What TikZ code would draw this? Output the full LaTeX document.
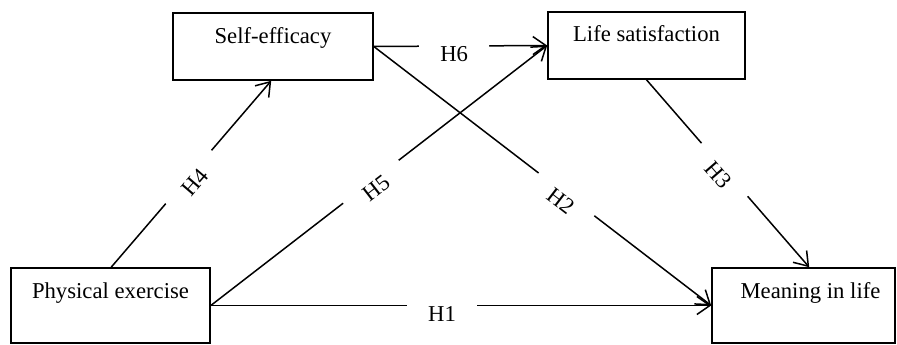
\documentclass[tikz,border=0pt]{standalone}
\usepackage{fontspec}
\setmainfont{Liberation Serif}
\usetikzlibrary{arrows.meta,calc}
\begin{document}
\begin{tikzpicture}[x=1pt,y=-1pt,
  boxnode/.style={draw, line width=1.6pt, inner sep=0pt},
  boxtext/.style={anchor=base, inner sep=0pt, font=\fontsize{22.7}{27}\selectfont},
  conn/.style={line width=1.5pt, -{Straight Barb[length=13pt,width=18pt]}},
  gap/.style={fill=white, sloped, inner sep=0pt, minimum width=70pt, minimum height=5pt},
  lab/.style={sloped, anchor=north, inner sep=0pt, text height=15pt, text depth=0pt, font=\fontsize{22.7}{27}\selectfont}
]
\useasboundingbox (0,0) rectangle (897,345);
% boxes
\node[boxnode, minimum width=200pt, minimum height=67pt] (SE) at (273,46.5) {};
\node[boxnode, minimum width=197pt, minimum height=67pt] (LS) at (646.5,45.5) {};
\node[boxnode, minimum width=199pt, minimum height=75pt] (PE) at (110.5,305.5) {};
\node[boxnode, minimum width=183pt, minimum height=75pt] (ML) at (803.5,305.5) {};
% box texts
\node[boxtext] (tSE) at ($(SE.north)+(0,31)$) {Self-efficacy};
\node[boxtext] (tLS) at ($(LS.north)+(0,30)$) {Life satisfaction};
\node[boxtext] (tPE) at ($(PE.north)+(0,31)$) {Physical exercise};
\node[boxtext] (tML) at ($(ML.north)+(7,31)$) {Meaning in life};
% connectors
\draw[conn] ($(PE.north west)+(101,0)$) -- node[gap,pos=0.484] (g4) {} node[lab,pos=0.484] (h4) {H4} ($(SE.south west)+(99,0)$);
\draw[conn] (PE.east) -- node[gap,pos=0.476] (g5) {} node[lab,pos=0.476] (h5) {H5} (LS.west);
\draw[conn] (SE.east) -- node[gap,pos=0.463] (g6) {} node[lab,pos=0.463] (h6) {H6} (LS.west);
\draw[conn] (SE.east) -- node[gap,pos=0.571] (g2) {} node[lab,pos=0.571] (h2) {H2} (ML.west);
\draw[conn] (LS.south) -- node[gap,pos=0.48] (g3) {} node[lab,pos=0.48] (h3) {H3} ($(ML.north west)+(98,0)$);
\draw[conn] (PE.east) -- node[gap,pos=0.462] (g1) {} node[lab,pos=0.462] (h1) {H1} (ML.west);
\end{tikzpicture}
\end{document}
